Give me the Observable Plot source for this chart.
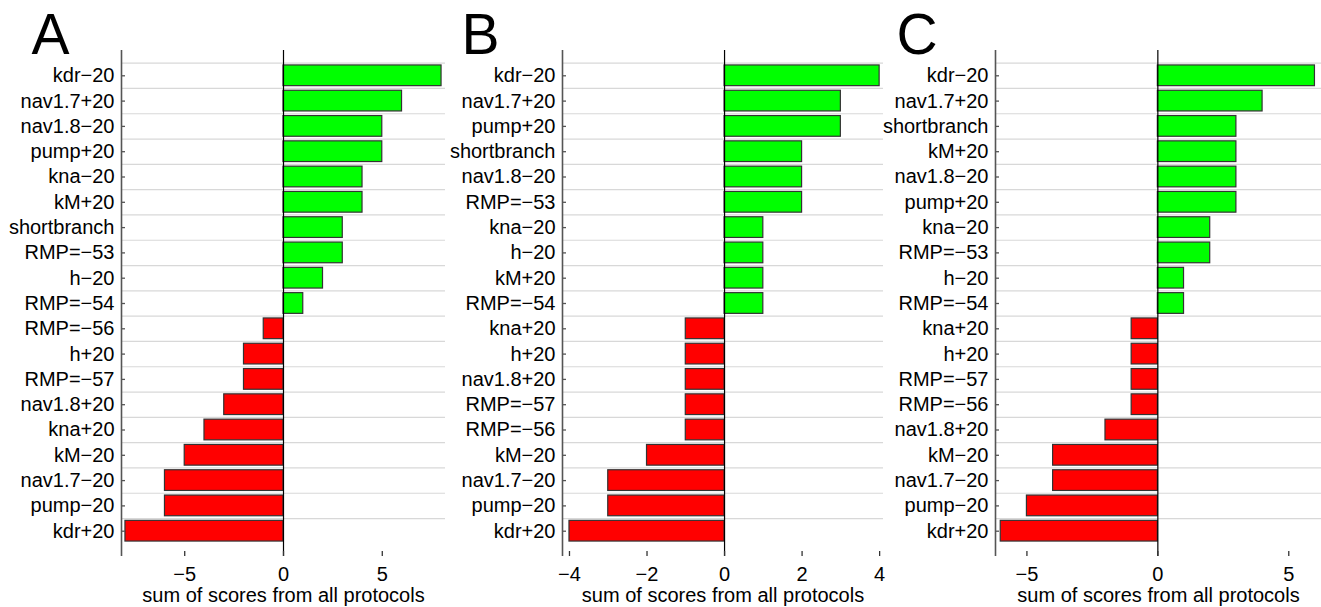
<!DOCTYPE html>
<html>
<head>
<meta charset="utf-8">
<script src="https://cdn.jsdelivr.net/npm/d3@7"></script>
<script src="https://cdn.jsdelivr.net/npm/@observablehq/plot@0.6"></script>
<style>
  html, body { margin: 0; padding: 0; background: #fff; }
  #wrap { position: relative; width: 1321px; height: 607px; overflow: hidden; }
  .panel { position: absolute; top: 0; }
  svg { overflow: visible; }
</style>
</head>
<body>
<div id="wrap"></div>
<script>
// ---- Data ----
const namesA = ["kdr−20","nav1.7+20","nav1.8−20","pump+20","kna−20","kM+20","shortbranch","RMP=−53","h−20","RMP=−54","RMP=−56","h+20","RMP=−57","nav1.8+20","kna+20","kM−20","nav1.7−20","pump−20","kdr+20"];
const valuesA = [8,6,5,5,4,4,3,3,2,1,-1,-2,-2,-3,-4,-5,-6,-6,-8];

const namesB = ["kdr−20","nav1.7+20","pump+20","shortbranch","nav1.8−20","RMP=−53","kna−20","h−20","kM+20","RMP=−54","kna+20","h+20","nav1.8+20","RMP=−57","RMP=−56","kM−20","nav1.7−20","pump−20","kdr+20"];
const valuesB = [4,3,3,2,2,2,1,1,1,1,-1,-1,-1,-1,-1,-2,-3,-3,-4];

const namesC = ["kdr−20","nav1.7+20","shortbranch","kM+20","nav1.8−20","pump+20","kna−20","RMP=−53","h−20","RMP=−54","kna+20","h+20","RMP=−57","RMP=−56","nav1.8+20","kM−20","nav1.7−20","pump−20","kdr+20"];
const valuesC = [6,4,3,3,3,3,2,2,1,1,-1,-1,-1,-1,-2,-4,-4,-5,-6];

const ticksA = [-5, 0, 5];
const ticksB = [-4, -2, 0, 2, 4];
const ticksC = [-5, 0, 5];

const xLabel = "sum of scores from all protocols";
const letters = ["A", "B", "C"];

// ---- Layout ----
const H = 607, MT = 50, MB = 51;
const FONT = "'Liberation Sans', Arial, Helvetica, sans-serif";
const panels = [
  {names: namesA, values: valuesA, ticks: ticksA, domain: [-8.2, 8.2], left: 0, width: 447, ml: 121, mr: 2, letter: letters[0], ldx: -90},
  {names: namesB, values: valuesB, ticks: ticksB, domain: [-4.18, 4.1], left: 447, width: 437, ml: 115, mr: 1, letter: letters[1], ldx: -101},
  {names: namesC, values: valuesC, ticks: ticksC, domain: [-6.2, 6.25], left: 884, width: 437, ml: 111, mr: 0, letter: letters[2], ldx: -99}
];

const bandwidth = (H - MT - MB) / 20;
const wrap = document.getElementById("wrap");

for (const p of panels) {
  const data = p.names.map((n, i) => ({name: n, value: p.values[i]}));
  const chart = Plot.plot({
    width: p.width,
    height: H,
    marginTop: MT,
    marginBottom: MB,
    marginLeft: p.ml,
    marginRight: p.mr,
    style: {fontFamily: FONT, fontSize: "20px", color: "#000", background: "transparent"},
    x: {domain: p.domain},
    y: {domain: p.names, type: "band", paddingInner: 0, paddingOuter: 0.5, round: false},
    marks: [
      Plot.ruleY(p.names, {y: d => d, dy: -bandwidth / 2, stroke: "#d8d8d8", strokeWidth: 1.2}),
      Plot.barX(data, {
        x: "value", y: "name",
        fill: d => d.value > 0 ? "#00ff00" : "#ff0000",
        stroke: "#333", strokeWidth: 1.2,
        insetTop: 2.3, insetBottom: 2.3
      }),
      Plot.ruleX([0], {stroke: "#000", strokeWidth: 1.2}),
      Plot.ruleX([p.domain[0]], {stroke: "#555", strokeWidth: 1.6}),
      Plot.axisY({anchor: "left", tickSize: -4, tickPadding: 11, stroke: "#555", strokeWidth: 1.3, fontSize: 20, label: null, fill: "#000"}),
      Plot.axisX({anchor: "bottom", ticks: p.ticks, tickSize: -5, tickPadding: 15, line: true, stroke: "#333", strokeWidth: 1.3, fontSize: 20, label: null, fill: "#000"}),
      Plot.text([xLabel], {frameAnchor: "bottom", dy: 45, lineAnchor: "bottom", fontSize: 20, fill: "#000"}),
      Plot.text([p.letter], {frameAnchor: "top-left", dx: p.ldx, dy: 3, textAnchor: "start", lineAnchor: "bottom", fontSize: 57, fill: "#000"})
    ]
  });
  chart.classList.add("panel");
  chart.style.left = p.left + "px";
  wrap.appendChild(chart);
}
</script>
</body>
</html>
